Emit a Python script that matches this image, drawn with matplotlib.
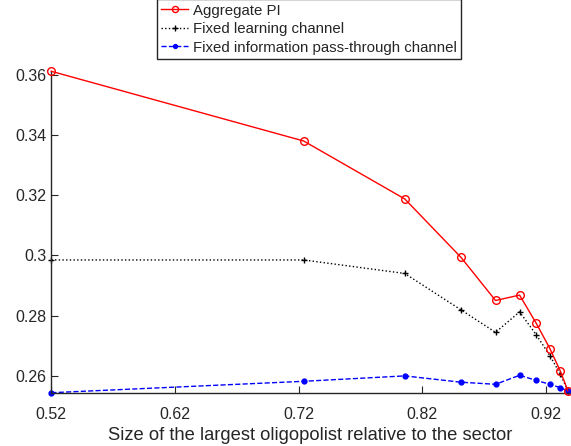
import matplotlib
matplotlib.use("Agg")
import matplotlib.pyplot as plt

x = [0.5203, 0.7241, 0.8058, 0.8511, 0.8791, 0.8985, 0.9120, 0.9230, 0.9313, 0.9375]
agg = [0.3613, 0.3381, 0.3188, 0.2994, 0.2850, 0.2868, 0.2774, 0.2690, 0.2616, 0.2550]
learn = [0.2985, 0.2985, 0.2940, 0.2819, 0.2744, 0.2812, 0.2736, 0.2666, 0.2606, 0.2550]
passthru = [0.2543, 0.2581, 0.2599, 0.2578, 0.2571, 0.2601, 0.2584, 0.2571, 0.2560, 0.2549]

xticks = [0.52, 0.62, 0.72, 0.82, 0.92]
xtick_labels = ["0.52", "0.62", "0.72", "0.82", "0.92"]
yticks = [0.26, 0.28, 0.30, 0.32, 0.34, 0.36]
ytick_labels = ["0.26", "0.28", "0.3", "0.32", "0.34", "0.36"]

plt.rcParams['font.family'] = ['Liberation Sans', 'DejaVu Sans']
gray = '#262626'

fig = plt.figure(figsize=(5.71, 4.46), dpi=100)
ax = fig.add_axes([0.0893, 0.1188, 0.9962 - 0.0893, 0.8408 - 0.1188])

ax.plot(x, agg, '-o', color='red', lw=1.0, ms=5.5, mfc='none', mew=1.0, label='Aggregate PI', clip_on=False, zorder=3)
ax.plot(x, learn, ':+', color='black', lw=1.0, ms=5, mew=1.0, label='Fixed learning channel', clip_on=False, zorder=2)
ax.plot(x, passthru, '--.', color='blue', lw=1.0, ms=7, label='Fixed information pass-through channel', clip_on=False, zorder=2)

ax.set_xlim(0.52, 0.9383)
ax.set_ylim(0.2542, 0.3614)
ax.set_xticks(xticks)
ax.set_xticklabels(xtick_labels)
ax.set_yticks(yticks)
ax.set_yticklabels(ytick_labels)
ax.spines['top'].set_visible(False)
ax.spines['right'].set_visible(False)
for s in ['left', 'bottom']:
    ax.spines[s].set_color(gray)
    ax.spines[s].set_linewidth(1.0)
ax.tick_params(direction='in', length=5, width=0.8, colors=gray, labelsize=11.5, labelcolor=gray)
ax.tick_params(axis='x', pad=10)
ax.tick_params(axis='y', pad=3)
ax.set_xlabel('Size of the largest oligopolist relative to the sector', fontsize=13.2, color=gray, labelpad=4)

leg = fig.legend(loc='upper left', bbox_to_anchor=(156.6 / 571, 1.0 + 1 / 446), fontsize=10.8,
                 frameon=True, fancybox=False, edgecolor=gray, framealpha=1,
                 handlelength=1.8, handletextpad=0.3, borderpad=0.3, labelspacing=0.3,
                 borderaxespad=0, markerscale=0.8)
leg.get_frame().set_linewidth(1.0)
for t in leg.get_texts():
    t.set_color(gray)

fig.savefig('out.png', dpi=100)
